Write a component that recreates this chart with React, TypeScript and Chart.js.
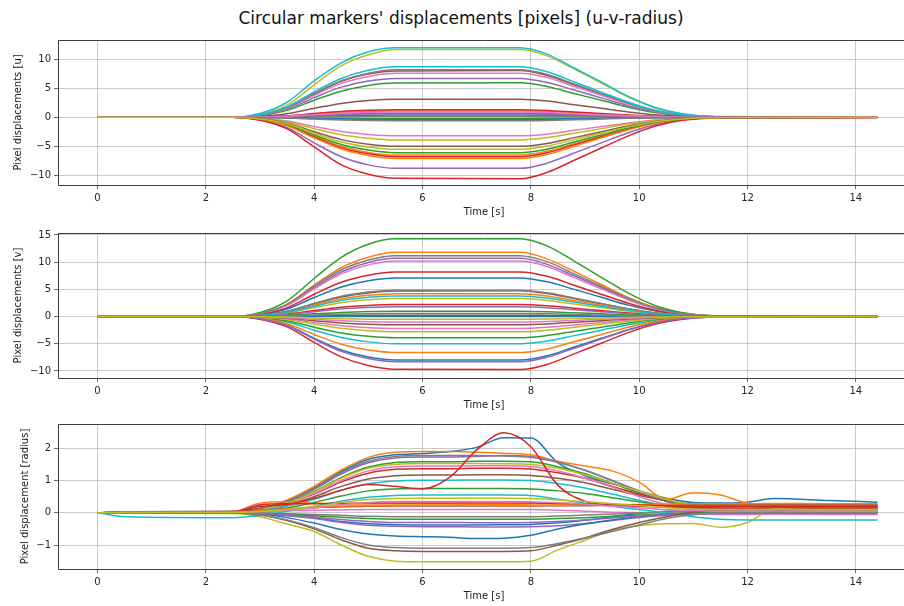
import React, { useEffect, useRef } from 'react';
import { Chart, registerables } from 'chart.js';

Chart.register(...registerables);

const FONT = '"DejaVu Sans", "Liberation Sans", sans-serif';
const COLORS = ['#1f77b4', '#ff7f0e', '#2ca02c', '#d62728', '#9467bd', '#8c564b', '#e377c2', '#7f7f7f', '#bcbd22', '#17becf'];

const TITLE = "Circular markers' displacements [pixels] (u-v-radius)";
const X_LABEL = 'Time [s]';
const X_TICKS = [0, 2, 4, 6, 8, 10, 12, 14];
const U_TICKS = [-10, -5, 0, 5, 10];
const V_TICKS = [-10, -5, 0, 5, 10, 15];
const R_TICKS = [-1, 0, 1, 2];

// time samples for u / v panels
const UV_TIMES = [0, 2.5, 3.0, 3.5, 4.0, 4.5, 5.0, 5.5, 7.8, 8.3, 8.8, 9.3, 9.8, 10.3, 10.8, 11.4, 14.4];

const U_SERIES = [
  [0, 0, 0.04, 0.14, 0.35, 0.54, 0.65, 0.7, 0.72, 0.64, 0.5, 0.36, 0.22, 0.1, 0.04, 0.01, 0],
  [0, 0, 0.05, 0.22, 0.55, 0.85, 1.02, 1.1, 1.1, 0.99, 0.77, 0.55, 0.33, 0.15, 0.06, 0.01, 0],
  [0, 0, 0.3, 1.2, 2.95, 4.5, 5.5, 5.9, 5.95, 5.3, 4.1, 2.95, 1.75, 0.82, 0.3, 0.06, 0],
  [0, 0, 0.07, 0.26, 0.65, 1.0, 1.2, 1.3, 1.3, 1.17, 0.91, 0.65, 0.39, 0.18, 0.07, 0.01, 0],
  [0, 0, 0.35, 1.4, 3.4, 5.2, 6.25, 6.7, 6.7, 6.0, 4.7, 3.35, 2.0, 0.94, 0.34, 0.07, 0.02],
  [0, 0, 0.4, 1.6, 4.0, 6.2, 7.45, 8.0, 8.05, 7.2, 5.6, 4.0, 2.4, 1.1, 0.4, 0.08, 0.02],
  [0, 0, 0.38, 1.5, 3.8, 5.85, 7.05, 7.6, 7.6, 6.85, 5.3, 3.8, 2.3, 1.06, 0.38, 0.08, 0],
  [0, 0, 0.42, 1.65, 4.1, 6.3, 7.6, 8.2, 8.2, 7.4, 5.75, 4.1, 2.45, 1.15, 0.41, 0.08, 0.01],
  [0, 0, 0.5, 2.1, 5.6, 8.9, 10.8, 11.7, 11.7, 10.6, 8.3, 5.9, 3.5, 1.6, 0.55, 0.1, 0.02],
  [0, 0, 0.65, 2.6, 6.3, 9.4, 11.3, 12.0, 12.0, 10.9, 8.5, 6.1, 3.6, 1.7, 0.6, 0.12, 0.03],
  [0, 0, 0.02, 0.08, 0.2, 0.31, 0.37, 0.4, 0.4, 0.36, 0.28, 0.2, 0.12, 0.06, 0.02, 0, 0],
  [0, 0, -0.33, -1.3, -3.25, -5.0, -6.05, -6.5, -6.5, -5.85, -4.55, -3.25, -1.95, -0.9, -0.33, -0.07, -0.01],
  [0, 0, -0.01, -0.04, -0.1, -0.15, -0.19, -0.2, -0.2, -0.18, -0.14, -0.1, -0.06, -0.03, -0.01, 0, 0],
  [0, 0, -0.34, -1.36, -3.4, -5.25, -6.3, -6.8, -6.8, -6.1, -4.75, -3.4, -2.05, -0.95, -0.34, -0.07, -0.02],
  [0, 0, -0.45, -1.8, -4.4, -6.8, -8.2, -8.8, -8.8, -7.9, -6.15, -4.4, -2.65, -1.25, -0.44, -0.09, -0.02],
  [0, 0, 0.16, 0.62, 1.55, 2.4, 2.9, 3.1, 3.1, 2.8, 2.15, 1.55, 0.93, 0.43, 0.16, 0.03, 0],
  [0, 0, -0.16, -0.64, -1.6, -2.45, -2.95, -3.2, -3.2, -2.9, -2.25, -1.6, -0.96, -0.45, -0.16, -0.03, 0],
  [0, 0, 0.01, 0.04, 0.1, 0.15, 0.19, 0.2, 0.2, 0.18, 0.14, 0.1, 0.06, 0.03, 0.01, 0, 0],
  [0, 0, -0.2, -0.8, -1.95, -3.0, -3.6, -3.9, -3.9, -3.5, -2.75, -1.95, -1.15, -0.55, -0.2, -0.04, 0],
  [0, 0, 0.45, 1.8, 4.4, 6.7, 8.1, 8.7, 8.7, 7.85, 6.1, 4.35, 2.6, 1.2, 0.44, 0.09, 0.02],
  [0, 0, -0.02, -0.08, -0.2, -0.31, -0.37, -0.4, -0.4, -0.36, -0.28, -0.2, -0.12, -0.06, -0.02, 0, 0],
  [0, 0, -0.36, -1.45, -3.55, -5.45, -6.6, -7.1, -7.1, -6.4, -5.0, -3.55, -2.15, -1.0, -0.36, -0.07, -0.01],
  [0, 0, -0.3, -1.2, -3.05, -4.7, -5.65, -6.1, -6.1, -5.5, -4.25, -3.05, -1.85, -0.85, -0.3, -0.06, 0],
  [0, 0, -0.5, -2.0, -5.1, -8.2, -9.8, -10.5, -10.6, -9.5, -7.4, -5.3, -3.2, -1.5, -0.52, -0.1, -0.02],
  [0, 0, 0.03, 0.12, 0.3, 0.46, 0.56, 0.6, 0.6, 0.54, 0.42, 0.3, 0.18, 0.08, 0.03, 0.01, 0],
  [0, 0, -0.25, -1.0, -2.5, -3.85, -4.65, -5.0, -5.0, -4.5, -3.5, -2.5, -1.5, -0.7, -0.25, -0.05, 0],
  [0, 0, 0.05, 0.18, 0.45, 0.7, 0.84, 0.9, 0.9, 0.81, 0.63, 0.45, 0.27, 0.13, 0.05, 0.01, 0],
  [0, 0, -0.03, -0.12, -0.3, -0.46, -0.56, -0.6, -0.6, -0.54, -0.42, -0.3, -0.18, -0.08, -0.03, -0.01, 0],
  [0, 0, -0.28, -1.1, -2.75, -4.25, -5.1, -5.5, -5.5, -4.95, -3.85, -2.75, -1.65, -0.77, -0.28, -0.06, 0],
];

const V_SERIES = [
  [0, 0, 0.36, 1.4, 3.5, 5.45, 6.6, 7.1, 7.1, 6.4, 5.0, 3.55, 2.1, 1.0, 0.36, 0.07, 0.01],
  [0, 0, 0.6, 2.3, 5.8, 9.0, 10.9, 11.8, 11.8, 10.6, 8.3, 5.9, 3.5, 1.65, 0.6, 0.12, 0.02],
  [0, 0, 0.75, 2.9, 7.0, 10.9, 13.3, 14.3, 14.3, 13.0, 10.2, 7.2, 4.3, 2.0, 0.72, 0.15, 0.03],
  [0, 0, 0.42, 1.65, 4.1, 6.3, 7.6, 8.2, 8.2, 7.4, 5.75, 4.1, 2.45, 1.15, 0.41, 0.08, 0.01],
  [0, 0, 0.55, 2.15, 5.35, 8.2, 9.95, 10.7, 10.7, 9.6, 7.5, 5.35, 3.2, 1.5, 0.54, 0.11, 0.02],
  [0, 0, 0.24, 0.94, 2.35, 3.6, 4.35, 4.7, 4.75, 4.25, 3.3, 2.35, 1.4, 0.66, 0.24, 0.05, 0],
  [0, 0, 0.52, 2.05, 5.1, 7.85, 9.5, 10.2, 10.2, 9.2, 7.15, 5.1, 3.05, 1.43, 0.51, 0.1, 0.01],
  [0, 0, 0.57, 2.25, 5.6, 8.6, 10.4, 11.2, 11.2, 10.1, 7.85, 5.6, 3.35, 1.57, 0.56, 0.11, 0.02],
  [0, 0, 0.17, 0.66, 1.65, 2.55, 3.07, 3.3, 3.3, 2.97, 2.3, 1.65, 1.0, 0.46, 0.17, 0.03, 0],
  [0, 0, -0.25, -1.0, -2.5, -3.85, -4.65, -5.0, -5.0, -4.5, -3.5, -2.5, -1.5, -0.7, -0.25, -0.05, 0],
  [0, 0, -0.4, -1.6, -4.0, -6.15, -7.45, -8.0, -8.0, -7.2, -5.6, -4.0, -2.4, -1.12, -0.4, -0.08, -0.01],
  [0, 0, 0.21, 0.84, 2.1, 3.25, 3.9, 4.2, 4.2, 3.8, 2.95, 2.1, 1.26, 0.59, 0.21, 0.04, 0],
  [0, 0, -0.2, -0.78, -1.95, -3.0, -3.63, -3.9, -3.9, -3.5, -2.73, -1.95, -1.17, -0.55, -0.2, -0.04, 0],
  [0, 0, 0.11, 0.44, 1.1, 1.7, 2.05, 2.2, 2.2, 1.98, 1.54, 1.1, 0.66, 0.31, 0.11, 0.02, 0],
  [0, 0, 0.09, 0.36, 0.9, 1.39, 1.67, 1.8, 1.8, 1.62, 1.26, 0.9, 0.54, 0.25, 0.09, 0.02, 0],
  [0, 0, 0.01, 0.05, 0.12, 0.19, 0.23, 0.25, 0.25, 0.22, 0.17, 0.12, 0.07, 0.03, 0.01, 0, 0],
  [0, 0, -0.11, -0.44, -1.1, -1.7, -2.05, -2.2, -2.2, -1.98, -1.54, -1.1, -0.66, -0.31, -0.11, -0.02, 0],
  [0, 0, 0.25, 0.97, 2.42, 3.73, 4.5, 4.85, 4.85, 4.37, 3.4, 2.42, 1.45, 0.68, 0.24, 0.05, 0],
  [0, 0, -0.14, -0.56, -1.4, -2.15, -2.6, -2.8, -2.8, -2.52, -1.96, -1.4, -0.84, -0.39, -0.14, -0.03, 0],
  [0, 0, 0.19, 0.76, 1.9, 2.93, 3.53, 3.8, 3.8, 3.42, 2.66, 1.9, 1.14, 0.53, 0.19, 0.04, 0],
  [0, 0, 0, 0.01, 0.02, 0.03, 0.03, 0.03, 0.03, 0.03, 0.02, 0.01, 0.01, 0, 0, 0, 0],
  [0, 0, -0.33, -1.32, -3.3, -5.08, -6.14, -6.6, -6.6, -5.94, -4.62, -3.3, -1.98, -0.92, -0.33, -0.07, -0.01],
  [0, 0, 0.05, 0.2, 0.5, 0.77, 0.93, 1.0, 1.0, 0.9, 0.7, 0.5, 0.3, 0.14, 0.05, 0.01, 0],
  [0, 0, -0.48, -1.9, -4.75, -7.4, -9.0, -9.7, -9.75, -8.8, -6.85, -4.9, -2.95, -1.38, -0.49, -0.1, -0.02],
  [0, 0, -0.42, -1.66, -4.15, -6.4, -7.72, -8.3, -8.3, -7.47, -5.81, -4.15, -2.49, -1.16, -0.42, -0.08, -0.01],
  [0, 0, -0.08, -0.3, -0.75, -1.16, -1.4, -1.5, -1.5, -1.35, -1.05, -0.75, -0.45, -0.21, -0.08, -0.02, 0],
  [0, 0, -0.05, -0.2, -0.5, -0.77, -0.93, -1.0, -1.0, -0.9, -0.7, -0.5, -0.3, -0.14, -0.05, -0.01, 0],
  [0, 0, 0.03, 0.11, 0.28, 0.42, 0.51, 0.55, 0.55, 0.5, 0.39, 0.28, 0.17, 0.08, 0.03, 0.01, 0],
  [0, 0, -0.03, -0.1, -0.25, -0.39, -0.47, -0.5, -0.5, -0.45, -0.35, -0.25, -0.15, -0.07, -0.03, -0.01, 0],
];

// time samples for radius panel
const R_TIMES = [0, 0.5, 2.5, 3.0, 3.5, 4.0, 4.5, 5.0, 5.5, 6.0, 6.5, 7.0, 7.5, 8.0, 8.5, 9.0, 9.5, 10.0, 10.5, 11.0, 11.5, 12.0, 12.5, 13.5, 14.4];

const R_SERIES = [
  [0, 0.01, 0.02, 0.12, 0.38, 0.78, 1.28, 1.66, 1.8, 1.84, 1.9, 2.03, 2.33, 2.32, 1.55, 1.15, 0.9, 0.68, 0.45, 0.32, 0.3, 0.33, 0.44, 0.38, 0.33],
  [0, 0.02, 0.04, 0.12, 0.4, 0.82, 1.33, 1.72, 1.88, 1.9, 1.9, 1.88, 1.85, 1.8, 1.6, 1.45, 1.3, 0.95, 0.42, 0.62, 0.55, 0.3, 0.26, 0.25, 0.24],
  [0, 0.01, 0.02, 0.1, 0.32, 0.66, 1.1, 1.42, 1.56, 1.58, 1.58, 1.6, 1.6, 1.58, 1.43, 1.21, 0.92, 0.62, 0.37, 0.19, 0.1, 0.1, 0.12, 0.1, 0.1],
  [0, 0.01, 0.02, 0.15, 0.3, 0.58, 0.96, 1.23, 1.35, 1.37, 1.37, 1.38, 1.38, 1.36, 1.24, 1.07, 0.82, 0.58, 0.37, 0.22, 0.15, 0.14, 0.16, 0.15, 0.15],
  [0, 0.01, 0.01, 0.1, 0.35, 0.73, 1.2, 1.55, 1.7, 1.73, 1.73, 1.75, 1.78, 1.75, 1.58, 1.32, 1.0, 0.65, 0.35, 0.15, 0.06, 0.04, 0.05, 0.06, 0.05],
  [0, 0.02, 0.03, 0.09, 0.25, 0.5, 0.82, 1.05, 1.15, 1.17, 1.17, 1.18, 1.18, 1.16, 1.07, 0.93, 0.73, 0.54, 0.37, 0.26, 0.2, 0.2, 0.22, 0.21, 0.2],
  [0, 0.01, 0.01, 0.08, 0.28, 0.6, 1.0, 1.3, 1.43, 1.45, 1.45, 1.46, 1.46, 1.44, 1.3, 1.08, 0.8, 0.5, 0.26, 0.08, 0.01, 0, 0.01, 0, 0],
  [0, 0.01, 0.02, 0.11, 0.36, 0.75, 1.24, 1.6, 1.75, 1.78, 1.78, 1.78, 1.76, 1.72, 1.56, 1.32, 1.0, 0.68, 0.4, 0.2, 0.1, 0.1, 0.11, 0.1, 0.1],
  [0, 0.01, 0.02, 0.09, 0.3, 0.64, 1.07, 1.38, 1.5, 1.53, 1.53, 1.53, 1.52, 1.5, 1.38, 1.18, 0.92, 0.67, 0.42, 0.24, 0.16, 0.15, 0.15, 0.15, 0.15],
  [0, 0.01, 0.01, 0.06, 0.2, 0.42, 0.7, 0.9, 0.99, 1.01, 1.01, 1.02, 1.02, 1.0, 0.91, 0.77, 0.58, 0.39, 0.22, 0.1, 0.05, 0.05, 0.06, 0.05, 0.05],
  [0, 0, 0, -0.02, -0.08, -0.16, -0.27, -0.34, -0.37, -0.38, -0.38, -0.38, -0.37, -0.36, -0.31, -0.23, -0.12, -0.02, 0.05, 0.08, 0.1, 0.1, 0.11, 0.1, 0.1],
  [0, 0.02, 0.04, 0.3, 0.34, 0.3, 0.28, 0.27, 0.27, 0.27, 0.27, 0.26, 0.26, 0.27, 0.27, 0.26, 0.25, 0.23, 0.21, 0.2, 0.2, 0.22, 0.2, 0.2, 0.2],
  [0, 0.01, 0.02, 0.05, 0.15, 0.32, 0.52, 0.68, 0.74, 0.75, 0.75, 0.75, 0.75, 0.74, 0.68, 0.6, 0.47, 0.34, 0.23, 0.16, 0.12, 0.12, 0.13, 0.12, 0.12],
  [0, 0.02, 0.03, 0.2, 0.26, 0.45, 0.7, 0.88, 0.82, 0.74, 1.1, 1.95, 2.48, 2.05, 0.85, 0.36, 0.22, 0.2, 0.18, 0.16, 0.15, 0.14, 0.15, 0.15, 0.15],
  [0, 0, -0.01, -0.03, -0.09, -0.18, -0.3, -0.39, -0.42, -0.43, -0.43, -0.44, -0.44, -0.43, -0.4, -0.33, -0.24, -0.15, -0.08, -0.03, 0, 0.01, 0, 0, 0],
  [0, 0.03, 0.05, 0.08, 0.12, 0.16, 0.19, 0.2, 0.21, 0.21, 0.21, 0.21, 0.21, 0.21, 0.22, 0.22, 0.23, 0.23, 0.24, 0.25, 0.25, 0.26, 0.27, 0.26, 0.25],
  [0, 0.01, 0.01, 0.03, 0.06, 0.08, 0.09, 0.1, 0.1, 0.1, 0.1, 0.1, 0.1, 0.1, 0.08, 0.05, 0.02, 0, -0.02, -0.04, -0.05, -0.05, -0.04, -0.05, -0.05],
  [0, 0, 0, -0.01, -0.03, -0.05, -0.08, -0.11, -0.12, -0.12, -0.12, -0.12, -0.12, -0.12, -0.1, -0.07, -0.04, 0, 0.02, 0.04, 0.05, 0.05, 0.06, 0.05, 0.05],
  [0, -0.01, -0.02, -0.12, -0.35, -0.58, -1.0, -1.35, -1.5, -1.52, -1.52, -1.52, -1.52, -1.5, -1.15, -0.85, -0.55, -0.4, -0.34, -0.33, -0.45, -0.3, 0.12, 0.07, 0.05],
  [0, -0.12, -0.15, -0.08, 0.05, 0.2, 0.36, 0.48, 0.54, 0.55, 0.55, 0.55, 0.55, 0.54, 0.42, 0.3, 0.2, 0.1, 0, -0.12, -0.2, -0.22, -0.22, -0.22, -0.22],
  [0, 0, -0.01, -0.04, -0.15, -0.32, -0.52, -0.66, -0.72, -0.74, -0.76, -0.8, -0.79, -0.7, -0.5, -0.35, -0.22, -0.12, -0.05, -0.01, 0, 0, 0.01, 0, 0],
  [0, 0.01, 0.02, 0.06, 0.12, 0.18, 0.21, 0.22, 0.22, 0.23, 0.23, 0.23, 0.22, 0.22, 0.23, 0.24, 0.25, 0.26, 0.27, 0.28, 0.28, 0.28, 0.29, 0.28, 0.28],
  [0, 0, 0, -0.01, -0.04, -0.09, -0.14, -0.18, -0.2, -0.2, -0.2, -0.2, -0.2, -0.2, -0.18, -0.15, -0.11, -0.07, -0.04, -0.01, 0, 0, 0.01, 0, 0],
  [0, 0.01, 0.02, 0.25, 0.28, 0.28, 0.29, 0.3, 0.3, 0.3, 0.3, 0.3, 0.3, 0.3, 0.29, 0.28, 0.26, 0.24, 0.22, 0.21, 0.2, 0.2, 0.2, 0.2, 0.2],
  [0, 0, 0, -0.02, -0.06, -0.13, -0.21, -0.27, -0.3, -0.3, -0.3, -0.31, -0.31, -0.3, -0.27, -0.22, -0.16, -0.11, -0.06, -0.03, -0.02, -0.02, -0.02, -0.02, -0.02],
  [0, 0, -0.01, -0.07, -0.24, -0.5, -0.84, -1.1, -1.18, -1.2, -1.2, -1.2, -1.2, -1.18, -1.0, -0.78, -0.52, -0.3, -0.12, 0.02, 0.08, 0.1, 0.1, 0.1, 0.1],
  [0, 0.01, 0.02, 0.03, 0.08, 0.15, 0.25, 0.32, 0.35, 0.35, 0.35, 0.35, 0.35, 0.34, 0.31, 0.27, 0.21, 0.16, 0.1, 0.07, 0.05, 0.05, 0.05, 0.05, 0.05],
  [0, 0, -0.01, -0.06, -0.22, -0.46, -0.77, -1.0, -1.08, -1.1, -1.1, -1.1, -1.1, -1.08, -0.95, -0.78, -0.58, -0.38, -0.18, -0.06, 0, 0, 0.01, 0, 0],
  [0, 0.01, 0.01, 0.04, 0.1, 0.19, 0.32, 0.41, 0.44, 0.45, 0.45, 0.45, 0.45, 0.44, 0.4, 0.35, 0.28, 0.22, 0.16, 0.12, 0.1, 0.1, 0.11, 0.1, 0.1],
];

const X_MIN = -0.73;
const X_MAX = 15.0;

const fmt = (v: number) => (v < 0 ? '\u2212' + Math.abs(v) : String(v));

// axes spines (left, top, bottom; the right one lies beyond the visible page)
const framePlugin = {
  id: 'frame',
  afterDraw(chart: any) {
    const { ctx, chartArea: a } = chart;
    const l = Math.round(a.left) + 0.5;
    const t = Math.round(a.top) + 0.5;
    const b = Math.round(a.bottom) + 0.5;
    ctx.save();
    ctx.strokeStyle = '#3c3c3c';
    ctx.lineWidth = 1;
    ctx.beginPath();
    ctx.moveTo(a.right, t);
    ctx.lineTo(l, t);
    ctx.lineTo(l, b);
    ctx.lineTo(a.right, b);
    ctx.stroke();
    ctx.restore();
  },
};

type PanelProps = {
  areaTop: number;
  times: number[];
  series: number[][];
  yMin: number;
  yMax: number;
  yTicks: number[];
  yLabel: string;
  yTitlePad: number;
};

const CW = 960;
const AREA_H = 145;
const TOP_PAD = 9; // Chart.js reserves half a tick label above the y axis
const X_AXIS_H = 33;
const CH = TOP_PAD + AREA_H + X_AXIS_H;
const PAD_RIGHT = CW - 910;

function Panel({ areaTop, times, series, yMin, yMax, yTicks, yLabel, yTitlePad }: PanelProps) {
  const ref = useRef<HTMLCanvasElement>(null);
  useEffect(() => {
    if (!ref.current) return;
    const datasets = series.map((vals, i) => ({
      data: vals.map((v, j) => ({ x: times[j], y: v })),
      borderColor: COLORS[i % 10],
      backgroundColor: COLORS[i % 10],
      borderWidth: 1.5,
      pointRadius: 0,
      pointHoverRadius: 0,
      cubicInterpolationMode: 'monotone' as const,
      fill: false,
      order: series.length - i,
    }));
    const tickFont = { family: FONT, size: 10 };
    const grid = {
      color: 'rgba(176,176,176,0.85)',
      lineWidth: 0.8,
      drawTicks: true,
      tickLength: 4,
      tickColor: '#444',
      tickWidth: 0.8,
    };
    const chart = new Chart(ref.current, {
      type: 'line',
      data: { datasets },
      options: {
        animation: false,
        responsive: false,
        events: [],
        layout: { padding: { top: TOP_PAD, right: PAD_RIGHT, left: 0, bottom: 0 } },
        plugins: {
          legend: { display: false },
          tooltip: { enabled: false },
          title: { display: false },
        },
        scales: {
          x: {
            type: 'linear',
            min: X_MIN,
            max: X_MAX,
            afterBuildTicks: (s: any) => {
              s.ticks = X_TICKS.map((v) => ({ value: v }));
            },
            afterFit: (s: any) => {
              s.height = X_AXIS_H;
            },
            ticks: {
              autoSkip: false,
              maxRotation: 0,
              padding: 3,
              color: '#262626',
              font: tickFont,
              callback: (v: any) => fmt(Number(v)),
            },
            grid,
            border: { display: false },
            title: {
              display: true,
              text: X_LABEL,
              color: '#1a1a1a',
              font: { family: FONT, size: 10 },
              padding: { top: 0, bottom: 0 },
            },
          },
          y: {
            type: 'linear',
            min: yMin,
            max: yMax,
            afterBuildTicks: (s: any) => {
              s.ticks = yTicks.map((v) => ({ value: v }));
            },
            afterFit: (s: any) => {
              s.width = 58;
            },
            ticks: {
              autoSkip: false,
              padding: 3,
              color: '#262626',
              font: tickFont,
              callback: (v: any) => fmt(Number(v)),
            },
            grid,
            border: { display: false },
            title: {
              display: true,
              text: yLabel,
              color: '#1a1a1a',
              font: { family: FONT, size: 10 },
              padding: { top: yTitlePad, bottom: 0 },
            },
          },
        },
      } as any,
      plugins: [framePlugin],
    });
    return () => chart.destroy();
  }, []);
  return (
    <canvas
      ref={ref}
      width={CW}
      height={CH}
      style={{ position: 'absolute', left: 0, top: areaTop - TOP_PAD, width: CW, height: CH }}
    />
  );
}

export default function App() {
  return (
    <div
      style={{
        position: 'fixed',
        left: 0,
        top: 0,
        width: 904,
        height: 606,
        overflow: 'hidden',
        background: '#ffffff',
      }}
    >
      <div
        style={{
          position: 'absolute',
          left: 0,
          top: 8,
          width: 922,
          textAlign: 'center',
          fontFamily: FONT,
          fontSize: 17,
          lineHeight: '20px',
          color: '#111',
          whiteSpace: 'nowrap',
        }}
      >
        {TITLE}
      </div>
      <Panel areaTop={40} times={UV_TIMES} series={U_SERIES} yMin={-11.67} yMax={13.33} yTicks={U_TICKS} yLabel="Pixel displacements [u]" yTitlePad={12} />
      <Panel areaTop={233} times={UV_TIMES} series={V_SERIES} yMin={-11.29} yMax={15.36} yTicks={V_TICKS} yLabel="Pixel displacements [v]" yTitlePad={12} />
      <Panel areaTop={424} times={R_TIMES} series={R_SERIES} yMin={-1.744} yMax={2.755} yTicks={R_TICKS} yLabel="Pixel displacement [radius]" yTitlePad={19} />
    </div>
  );
}
